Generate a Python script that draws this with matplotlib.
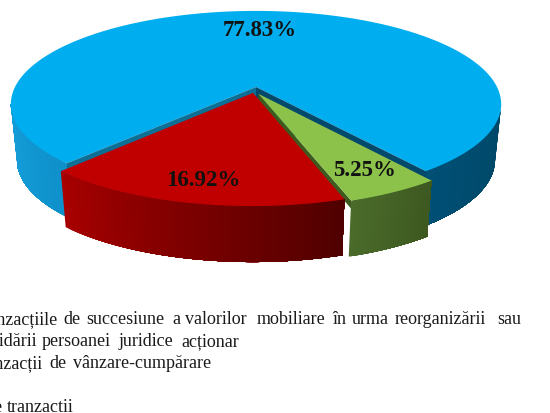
import numpy as np
import matplotlib
matplotlib.use('Agg')
import matplotlib.pyplot as plt
from matplotlib.colors import to_rgb

plt.rcParams['font.family'] = ['Liberation Serif', 'DejaVu Serif']

# date
names = ['verde', 'rosu', 'albastru']
values = [5.25, 16.92, 77.83]
labels = ['5.25%', '16.92%', '77.83%']

# randuri de text: (y, [(cuvant, x, aliniere), ...])
rows = [
    (320, [('Tranzacțiile', 58, 'right'), ('de', 63, 'left'), ('succesiune', 86, 'left'),
           ('a', 172, 'left'), ('valorilor', 185, 'left'), ('mobiliare', 257, 'left'),
           ('în', 332, 'left'), ('urma', 352, 'left'), ('reorganizării', 395, 'left'),
           ('sau', 497, 'left')]),
    (342, [('lichidării', 37, 'right'), ('persoanei', 42, 'left'), ('juridice', 119, 'left'),
           ('acționar', 181, 'left')]),
    (364, [('Tranzacții', 43, 'right'), ('de', 49, 'left'), ('vânzare-cumpărare', 73, 'left')]),
    (408, [('Alte', 3, 'right'), ('tranzactii', 7, 'left')]),
]

# geometria placintei (pixeli)
cx, cy = 256, 88
rx, ry = 241, 90
k = 0.183      # perspectiva
depth = 56
shrink = 0.975
start = 53

top_colors = ['#8CC24A', '#C00000', '#00AEEF']
offsets = [(0.01, 0.075), (-0.012, 0.065), (0, 0)]
side_colors = [('#4A6B2A', '#3D5820'), ('#A80000', '#500000')]
wall_green = '#3D5B1F'
label_pos = [(364, 171), (203, 181), (260, 30)]


def project(theta, du=0, dv=0, r=1.0):
    u = r * np.cos(np.radians(theta)) + du
    v = r * np.sin(np.radians(theta)) + dv
    s = 1 / (1 - k * v)
    return cx + rx * u * s, cy + ry * v * s


def lower(x, y):
    return cx + (np.asarray(x) - cx) * shrink, np.asarray(y) + depth


def mix(c1, c2, t):
    a, b = np.array(to_rgb(c1)), np.array(to_rgb(c2))
    return tuple(a + (b - a) * t)


def draw_side(ax, t0, t1, c0, c1, du, dv, z, n=60):
    # fiecare fasie merge pana la capat, ca sa nu se vada cusaturi
    edges = np.linspace(t0, t1, n + 1)
    for i in range(n):
        x, y = project(edges[i:], du, dv)
        xb, yb = lower(x, y)
        col = mix(c0, c1, i / (n - 1))
        ax.fill(np.r_[x, xb[::-1]], np.r_[y, yb[::-1]], color=col, lw=0, zorder=z)


def draw_top(ax, t0, t1, color, du, dv, z):
    x, y = project(np.linspace(t0, t1, 300), du, dv)
    x0, y0 = project(0, du, dv, r=0)
    ax.fill(np.r_[x0, x], np.r_[y0, y], color=color, lw=0, zorder=z)


def draw_wall(ax, theta, color, du, dv, z, d):
    x0, y0 = project(0, du, dv, r=0)
    x, y = project(theta, du, dv)
    ax.fill([x0, x, x, x0], [y0, y, y + d, y0 + d], color=color, lw=0, zorder=z)


fig = plt.figure(figsize=(5.5, 4.14), dpi=100)
ax = fig.add_axes([0, 0, 1, 1])
ax.set_xlim(0, 550)
ax.set_ylim(414, 0)
ax.axis('off')

spans = np.array(values) / sum(values) * 360
angles = start + np.r_[0, np.cumsum(spans)]
t_green0, t_green1 = angles[0], angles[1]
t_red0, t_red1 = angles[1], angles[2]
t_blue0, t_blue1 = angles[2], angles[3]

# unghiul la care marginea elipsei e cea mai departe de centru
rim = np.degrees(np.arcsin(k))

# albastru
draw_side(ax, t_blue0, 180 - rim, '#0E90CA', '#16A0DC', 0, 0, 1)
draw_side(ax, rim, t_blue1 - 360, '#004766', '#004F75', 0, 0, 1)
draw_top(ax, t_blue0, t_blue1, top_colors[2], 0, 0, 2)
draw_wall(ax, t_blue0, '#0C6F96', 0, 0, 2, 30)
draw_wall(ax, t_blue1, '#03496B', 0, 0, 2, 30)

# verde
draw_wall(ax, t_green1, wall_green, *offsets[0], 3, 8)
draw_side(ax, t_green1, t_green0, side_colors[0][0], side_colors[0][1], *offsets[0], 3)
draw_top(ax, t_green0, t_green1, top_colors[0], *offsets[0], 4)

# rosu
draw_side(ax, t_red1, t_red0, side_colors[1][0], side_colors[1][1], *offsets[1], 5)
draw_top(ax, t_red0, t_red1, top_colors[1], *offsets[1], 6)

# etichete
for lab, (x, y) in zip(labels, label_pos):
    ax.text(x, y, lab, ha='center', va='center', fontsize=16.5, fontweight='bold',
            color='#111111', zorder=10)

for y, words in rows:
    for word, x, align in words:
        ax.text(x, y, word, ha=align, va='center', fontsize=13, color='#1a1a1a')

fig.savefig('out.png', dpi=100)
